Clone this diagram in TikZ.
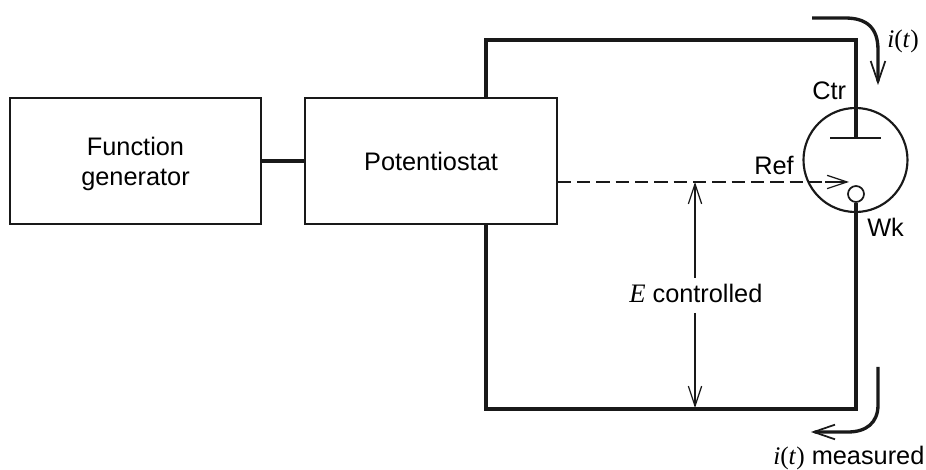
\documentclass[tikz,border=0pt]{standalone}
\usepackage{fontspec}
\setmainfont{Liberation Sans}
\usetikzlibrary{arrows.meta,calc}
\newfontfamily\mathish{Liberation Serif}
\tikzset{
  x=0.75pt,y=-0.75pt,
  blockbox/.style={draw=black!90,line width=1.1pt,minimum width=#1,minimum height=94.5pt,inner sep=0pt,align=center,font=\fontsize{19}{22.5}\selectfont},
  wire/.style={draw=black!90,line width=2.8pt},
  thinwire/.style={draw=black!90,line width=1.6pt},
  opentip/.style={-{Straight Barb[length=15pt,width=10pt,line width=0.9pt]}},
  currenttip/.style={-{Straight Barb[length=16pt,width=11pt,line width=1.3pt]}},
  lbl/.style={font=\fontsize{19}{22}\selectfont,inner sep=0pt},
}
\newcommand{\itime}{{\mathish\fontsize{19}{22}\selectfont\itshape i\/\textup{(}t\/\textup{)}}}
\begin{document}
\begin{tikzpicture}
\useasboundingbox (0,0) rectangle (926,470);
\node[blockbox=188.25pt] (fg) at (135.5,161) {\rule{0pt}{18.3pt}Function\\generator};
\node[blockbox=189pt] (pot) at (431,161) {Potentiostat};
\node[circle,draw=black!90,line width=1.6pt,minimum size=78pt,inner sep=0pt] (cell) at (855.5,160) {};
\node[circle,draw=black!90,line width=1.3pt,minimum size=12pt,inner sep=0pt] (wk) at (856,194) {};
\coordinate (bar) at (856,138);
\coordinate (barL) at (830,138);
\coordinate (barR) at (881,138);
\coordinate (tl) at (486,40);
\coordinate (tr) at (856,40);
\coordinate (bl) at (486,409);
\coordinate (br) at (856,409);
\coordinate (dash) at (695,182);
\coordinate (dashE) at (849,182);
\coordinate (potT) at (486,98);
\coordinate (potB) at (486,224);
\coordinate (gapT) at (695,278);
\coordinate (gapB) at (695,313);
\coordinate (arrB) at (695,408);
\draw[wire] (fg.east) -- (pot.west);
\draw[wire,line join=miter] (potT) -- (tl) -- (tr) -- (bar);
\draw[thinwire] (barL) -- (barR);
\draw[wire,line join=miter] (potB) -- (bl) -- (br) -- (wk.south);
\draw[black!90,line width=1.1pt,dash pattern=on 10pt off 4.5pt] (pot.east |- dash) -- ($(dashE)+(-12,0)$);
\draw[black!90,line width=0.9pt,opentip] ($(dashE)+(-24,0)$) -- (dashE);
\draw[black!90,line width=0.9pt,opentip] (gapT) -- (dash);
\draw[black!90,line width=0.9pt,opentip] (gapB) -- (arrB);
\draw[black!90,line width=2.5pt,currenttip] (812,18) -- (845,18) .. controls (867,18) and (878,28) .. (878,50) -- (878,85);
\draw[black!90,line width=2.5pt,currenttip] (878,367) -- (878,405) .. controls (878,423) and (866,432) .. (848,432) -- (811,432);
\node[lbl,anchor=base west] (ctr) at (812,100) {Ctr};
\node[lbl,anchor=base west] (ref) at (754,175) {Ref};
\node[lbl,anchor=base west] (wklbl) at (867,237) {Wk};
\node[lbl,anchor=base west] (ilabel) at (887,48) {\itime};
\node[lbl,anchor=base west] (ec) at (629,303) {{\mathish\itshape\fontsize{20}{22}\selectfont E} controlled};
\node[lbl,anchor=base west] (im) at (773,465) {\itime{} measured};
\end{tikzpicture}
\end{document}
